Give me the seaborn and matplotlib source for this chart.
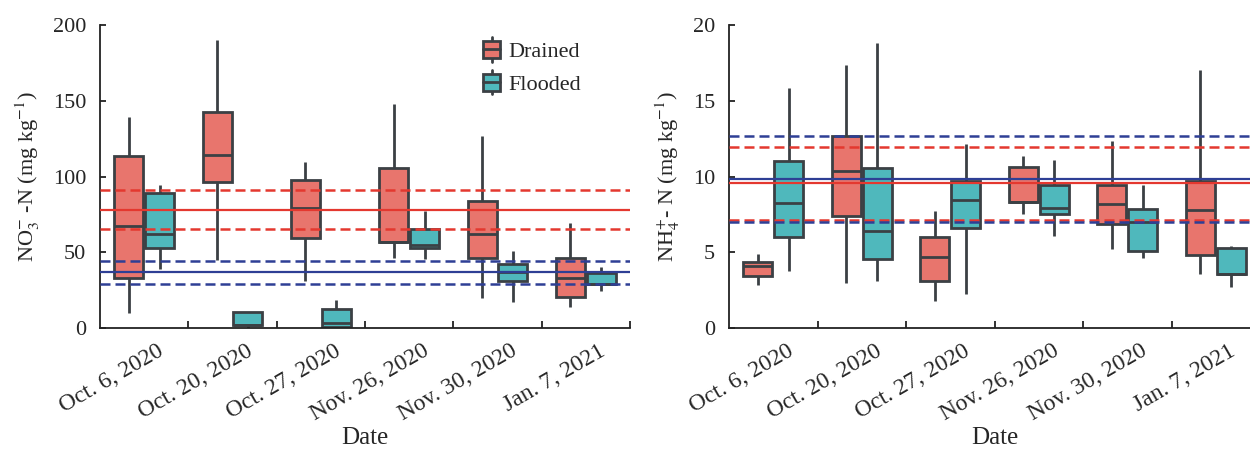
import numpy as np
import pandas as pd
import matplotlib
matplotlib.use('Agg')
import matplotlib.pyplot as plt
import matplotlib.transforms as mtransforms
from matplotlib.legend_handler import HandlerBase
from matplotlib.patches import Rectangle, Patch
from matplotlib.lines import Line2D
import seaborn as sns

dates = ['Oct. 6, 2020', 'Oct. 20, 2020', 'Oct. 27, 2020',
         'Nov. 26, 2020', 'Nov. 30, 2020', 'Jan. 7, 2021']
groups = ['Drained', 'Flooded']

# five numbers per box: [low whisker, Q1, median, Q3, high whisker]
no3_drained = [[9.7, 32.8, 67.5, 113.5, 139], [44.9, 96.4, 114.2, 142.4, 190],
               [31.2, 59.6, 79.2, 97.7, 109.4], [46, 56.6, 56.6, 105.8, 147.6],
               [20, 46.4, 61.8, 83.8, 126.7], [14, 20.7, 32.8, 46.4, 69.5]]
no3_flooded = [[38.7, 53, 61.8, 88.9, 94.4], [0, 2, 2, 10.4, 10.4],
               [0, 0.9, 3.5, 12.5, 18.5], [45.3, 52.6, 54.8, 65.3, 77.2],
               [17, 31, 36.7, 42, 51], [24.6, 29, 29, 36, 40]]
nh4_drained = [[2.84, 3.43, 4.11, 4.38, 4.88], [2.99, 7.41, 10.38, 12.67, 17.36],
               [1.78, 3.1, 4.71, 5.99, 7.74], [7.5, 8.34, 8.34, 10.65, 11.37],
               [5.21, 6.84, 8.16, 9.42, 12.34], [3.54, 4.82, 7.79, 9.7, 17.03]]
nh4_flooded = [[3.78, 6.03, 8.23, 11.02, 15.86], [3.12, 4.55, 6.4, 10.54, 18.83],
               [2.22, 6.6, 8.45, 9.7, 12.12], [6.07, 7.5, 7.94, 9.44, 11.09],
               [4.6, 5.1, 7.02, 7.83, 9.42], [2.69, 3.56, 3.56, 5.3, 5.4]]

# reference lines: [mean, lower, upper]
no3_drained_ref = [77.9, 65.3, 91.1]
no3_flooded_ref = [36.8, 29.0, 44.4]
nh4_drained_ref = [9.55, 7.13, 11.93]
nh4_flooded_ref = [9.83, 6.98, 12.69]

no3_ticks = [0, 50, 100, 150, 200]
nh4_ticks = [0, 5, 10, 15, 20]

sns.set_theme(style='ticks')
plt.rcParams['font.family'] = ['Liberation Serif', 'DejaVu Serif']
plt.rcParams['mathtext.fontset'] = 'stix'

pal = {'Drained': '#e8756d', 'Flooded': '#4fb8bc'}
edge = '#3b4044'
red = '#e4382f'
blue = '#2e3f95'


def make_df(drained, flooded):
    rows = []
    for d, a, b in zip(dates, drained, flooded):
        for v in a:
            rows.append((d, 'Drained', v))
        for v in b:
            rows.append((d, 'Flooded', v))
    return pd.DataFrame(rows, columns=['Date', 'group', 'value'])


class BoxHandler(HandlerBase):
    def create_artists(self, legend, orig_handle, xdescent, ydescent,
                       width, height, fontsize, trans):
        bw, bh = 12.0, 12.5
        x0 = -xdescent + (width - bw) / 2
        yc = -ydescent + height / 2
        box = Rectangle((x0, yc - bh / 2), bw, bh, facecolor=orig_handle.get_facecolor(),
                        edgecolor=edge, lw=2, transform=trans)
        mid = Line2D([x0, x0 + bw], [yc, yc], color=edge, lw=2, transform=trans)
        stub = Line2D([x0 + bw / 2] * 2, [yc - bh / 2 - 2.5, yc + bh / 2 + 2.5],
                      color=edge, lw=2, transform=trans)
        return [stub, box, mid]


def draw(ax, drained, flooded, dref, fref, ticks, ylabel, legend=False):
    df = make_df(drained, flooded)
    sns.boxplot(data=df, x='Date', y='value', hue='group', order=dates, hue_order=groups,
                palette=pal, saturation=1, width=0.7, gap=0.06, whis=(0, 100),
                showfliers=False, showcaps=False, linewidth=2, linecolor=edge,
                legend=False, ax=ax)
    for ref, c in [(dref, red), (fref, blue)]:
        ax.axhline(ref[0], color=c, lw=1.6, zorder=5)
        ax.axhline(ref[1], color=c, lw=1.8, ls=(0, (4, 2)), zorder=5)
        ax.axhline(ref[2], color=c, lw=1.8, ls=(0, (4, 2)), zorder=5)

    ax.set_xlim(-0.5, 5.5)
    ax.set_ylim(ticks[0], ticks[-1])
    ax.set_yticks(ticks)
    ax.set_xticks(range(len(dates)))
    ax.set_xticklabels(dates, rotation=30, ha='right', va='top', rotation_mode='anchor')
    ax.set_xticks(np.arange(0.5, len(dates), 1), minor=True)
    ax.tick_params(axis='x', which='major', length=0, pad=9, labelsize=17)
    ax.tick_params(axis='x', which='minor', direction='in', length=5, width=1.3, color='#222222')
    ax.tick_params(axis='y', direction='in', length=4.5, width=1.3, pad=10, labelsize=16,
                   color='#222222')
    offset = mtransforms.ScaledTranslation(0.13, 0, ax.figure.dpi_scale_trans)
    for lab in ax.get_xticklabels():
        lab.set_transform(lab.get_transform() + offset)
    for s in ['top', 'right']:
        ax.spines[s].set_visible(False)
    for s in ['left', 'bottom']:
        ax.spines[s].set_linewidth(1.3)
        ax.spines[s].set_color('#222222')
    ax.set_xlabel('Date', fontsize=18, labelpad=1)
    ax.set_ylabel(ylabel, fontsize=16, labelpad=8)

    if legend:
        handles = [Patch(facecolor=pal[g]) for g in groups]
        ax.legend(handles, groups, handler_map={Patch: BoxHandler()}, loc='upper left',
                  bbox_to_anchor=(0.718, 0.945), frameon=False, fontsize=16,
                  handlelength=1.0, handletextpad=0.25, labelspacing=0.55,
                  borderpad=0, borderaxespad=0)


fig = plt.figure(figsize=(12.5, 4.51), dpi=100)
ax1 = fig.add_axes([100 / 1250, 1 - 328 / 451, 530 / 1250, 303 / 451])
ax2 = fig.add_axes([729 / 1250, 1 - 328 / 451, 531 / 1250, 303 / 451])

draw(ax1, no3_drained, no3_flooded, no3_drained_ref, no3_flooded_ref, no3_ticks,
     r'NO$_3^{-}$ -N (mg kg$^{-1}$)', legend=True)
draw(ax2, nh4_drained, nh4_flooded, nh4_drained_ref, nh4_flooded_ref, nh4_ticks,
     r'NH$_4^{+}$- N (mg kg$^{-1}$)')

fig.savefig('out.png', dpi=100)
